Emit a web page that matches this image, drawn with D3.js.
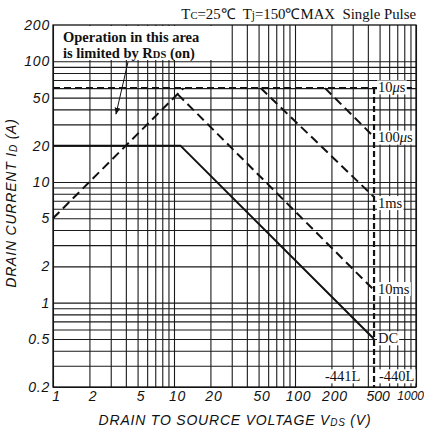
<!DOCTYPE html>
<html>
<head>
<meta charset="UTF-8">
<script src="https://d3js.org/d3.v7.min.js"></script>
<style>
  body { margin: 0; background: #fff; }
  .tick-lbl { font-family: "Liberation Sans", Arial, sans-serif; font-style: italic; font-size: 14px; letter-spacing: 0.8px; fill: #111; }
  .serif { font-family: "Liberation Serif", "Times New Roman", serif; fill: #111; white-space: pre; }
  .grid line { stroke: #1a1a1a; stroke-width: 1.1; }
  .grid path { display: none; }
</style>
</head>
<body>
<svg id="chart" width="424" height="431"></svg>
<script>
// ---- data ----
const xTicks = [1, 2, 5, 10, 20, 50, 100, 200, 500, 1000];
const yTicks = [200, 100, 50, 20, 10, 5, 2, 1, 0.5, 0.2];

// SOA boundary lines [V, A]
const dcLine = [[1, 20], [11.3, 20], [450, 0.5]];
const rdsLine = [[1, 5], [12, 60]];
const us10Line = [[1, 60], [1000, 60]];
const us100Line = [[177, 60], [450, 23.6]];
const ms1Line = [[52, 60], [450, 7.5]];
const ms10Line = [[10.7, 53.5], [450, 1.27]];
const vdssLine = [[450, 60], [450, 0.2]];

const lineLabels = [
  { text: "10", unit: "μs", v: 60 },
  { text: "100", unit: "μs", v: 23 },
  { text: "1ms", unit: "", v: 6.6 },
  { text: "10ms", unit: "", v: 1.28 },
  { text: "DC", unit: "", v: 0.5 }
];

// gridline values
const gridX = [];
[1, 10, 100].forEach(d => { for (let i = 1; i < 10; i++) gridX.push(i * d); });
gridX.push(1000);
const gridY = [];
[0.1, 1, 10].forEach(d => { for (let i = 1; i < 10; i++) if (i * d >= 0.2) gridY.push(i * d); });
gridY.push(100);

// ---- layout ----
const mL = 53, mR = 416, mT = 25, mB = 387;
const svg = d3.select("#chart");
const x = d3.scaleLog().domain([1, 1000]).range([mL, mR]);
const y = d3.scaleLog().domain([0.2, 200]).range([mB, mT]);

// grid
svg.append("g").attr("class", "grid")
  .attr("transform", `translate(0,${mB})`)
  .call(d3.axisBottom(x).tickValues(gridX).tickSize(-(mB - mT)).tickFormat(""));
svg.append("g").attr("class", "grid")
  .attr("transform", `translate(${mL},0)`)
  .call(d3.axisLeft(y).tickValues(gridY).tickSize(-(mR - mL)).tickFormat(""));

// frame
svg.append("rect").attr("x", mL).attr("y", mT)
  .attr("width", mR - mL).attr("height", mB - mT)
  .attr("fill", "none").attr("stroke", "#111").attr("stroke-width", 1.3);

// annotation box
svg.append("rect").attr("x", mL + 4).attr("y", mT + 1)
  .attr("width", 158).attr("height", 34).attr("fill", "#fff");
const ann = svg.append("text").attr("class", "serif")
  .attr("font-weight", "bold").attr("font-size", 14.5);
ann.append("tspan").attr("x", 63).attr("y", 42).text("Operation in this area");
const ann2 = ann.append("tspan").attr("x", 63).attr("y", 58);
ann2.append("tspan").text("is limited by R");
ann2.append("tspan").attr("font-size", 10.5).text("DS");
ann2.append("tspan").text(" (on)");

// arrow
svg.append("defs").append("marker")
  .attr("id", "arr").attr("viewBox", "0 0 10 10").attr("refX", 9).attr("refY", 5)
  .attr("markerWidth", 7).attr("markerHeight", 7).attr("orient", "auto")
  .append("path").attr("d", "M0,1 L10,5 L0,9 Z").attr("fill", "#111");
svg.append("line").attr("x1", 128).attr("y1", 62).attr("x2", 116).attr("y2", 114)
  .attr("stroke", "#111").attr("stroke-width", 1).attr("marker-end", "url(#arr)");

// lines
const line = d3.line().x(d => x(d[0])).y(d => y(d[1]));
function drawLine(data, dash, w) {
  svg.append("path").datum(data).attr("d", line)
    .attr("fill", "none").attr("stroke", "#111").attr("stroke-width", w)
    .attr("stroke-dasharray", dash);
}
drawLine(us10Line, "7,4", 2);
drawLine(rdsLine, "9,5", 2);
drawLine(us100Line, "9,5", 2);
drawLine(ms1Line, "9,5", 2);
drawLine(ms10Line, "9,5", 2);
drawLine(vdssLine, "6,3", 2.2);
drawLine(dcLine, null, 2);

// right labels with white background
function boxedLabel(parts, tx, ty) {
  const g = svg.append("g");
  const bg = g.append("rect").attr("fill", "#fff");
  const t = g.append("text").attr("class", "serif").attr("font-size", 14.5)
    .attr("x", tx).attr("y", ty).attr("dominant-baseline", "middle");
  parts.forEach(p => {
    const s = t.append("tspan").text(p.t);
    if (p.it) s.attr("font-style", "italic");
  });
  const b = t.node().getBBox();
  bg.attr("x", b.x - 1).attr("y", b.y + 1).attr("width", b.width + 2).attr("height", b.height - 2);
}
lineLabels.forEach(l => {
  const parts = [{ t: l.text }];
  if (l.unit) { parts.push({ t: "μ", it: true }); parts.push({ t: "s" }); }
  boxedLabel(parts, 378, y(l.v) + 1);
});
boxedLabel([{ t: "-441L" }], 325, 378);
boxedLabel([{ t: "-440L" }], 379, 378);

// title
const title = svg.append("text").attr("class", "serif").attr("font-size", 14.8)
  .attr("x", mR).attr("y", 19).attr("text-anchor", "end");
title.append("tspan").text("T");
title.append("tspan").attr("font-size", 10.5).text("C");
title.append("tspan").text("=25℃  T");
title.append("tspan").attr("font-size", 11.5).text("j");
title.append("tspan").text("=150℃MAX  Single Pulse");

// tick labels via axes
const yAxis = svg.append("g").attr("transform", `translate(${mL},0)`)
  .call(d3.axisLeft(y).tickValues(yTicks).tickSize(0).tickPadding(3).tickFormat(d3.format("~g")));
yAxis.select(".domain").remove();
yAxis.selectAll("text").attr("class", "tick-lbl").attr("font-size", null).attr("font-family", null);

const xAxis = svg.append("g").attr("transform", `translate(0,${mB})`)
  .call(d3.axisBottom(x).tickValues(xTicks).tickSize(0).tickPadding(4).tickFormat(d3.format("~g")));
xAxis.select(".domain").remove();
xAxis.selectAll("text").attr("class", "tick-lbl").attr("font-family", null)
  .attr("text-anchor", d => d === 1000 ? "end" : "middle")
  .attr("dx", d => d === 1000 ? 7.5 : (d === 500 ? -2 : 3))
  .style("font-size", d => d === 1000 ? "12px" : null)
  .style("letter-spacing", d => d >= 500 ? "0px" : null);

// axis titles
const xt = svg.append("text").attr("class", "tick-lbl").attr("x", 235).attr("y", 425)
  .attr("text-anchor", "middle").attr("letter-spacing", 0.4).attr("font-size", 14.5);
xt.append("tspan").text("DRAIN TO SOURCE VOLTAGE  V");
xt.append("tspan").attr("font-size", 10).attr("dy", 1).text("DS");
xt.append("tspan").attr("dy", -1).text(" (V)");

const yt = svg.append("text").attr("class", "tick-lbl")
  .attr("transform", "translate(16,203) rotate(-90)")
  .attr("text-anchor", "middle").attr("letter-spacing", 0.4).attr("font-size", 14.5);
yt.append("tspan").text("DRAIN CURRENT  I");
yt.append("tspan").attr("font-size", 10).attr("dy", 1).text("D");
yt.append("tspan").attr("dy", -1).text(" (A)");
</script>
</body>
</html>
